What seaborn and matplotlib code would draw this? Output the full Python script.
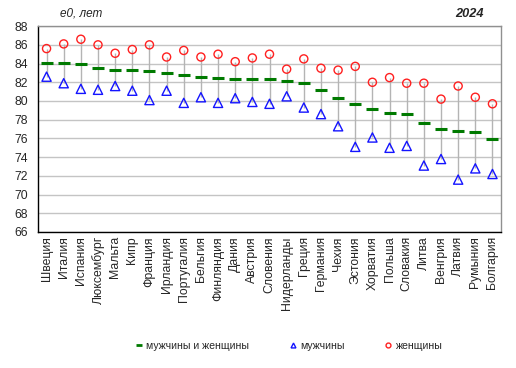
import numpy as np
import pandas as pd
import matplotlib
matplotlib.use("Agg")
import matplotlib.pyplot as plt
from matplotlib.lines import Line2D
import seaborn as sns

countries = ["Швеция", "Италия", "Испания", "Люксембург", "Мальта", "Кипр",
             "Франция", "Ирландия", "Португалия", "Бельгия", "Финляндия",
             "Дания", "Австрия", "Словения", "Нидерланды", "Греция",
             "Германия", "Чехия", "Эстония", "Хорватия", "Польша", "Словакия",
             "Литва", "Венгрия", "Латвия", "Румыния", "Болгария"]
both = [84.1, 84.1, 84.0, 83.5, 83.3, 83.3, 83.2, 83.0, 82.8, 82.6, 82.5,
        82.4, 82.4, 82.3, 82.1, 81.9, 81.2, 80.3, 79.7, 79.1, 78.7, 78.6,
        77.6, 77.0, 76.8, 76.7, 75.9]
men = [82.6, 81.9, 81.3, 81.2, 81.6, 81.1, 80.1, 81.1, 79.8, 80.4, 79.8,
       80.3, 79.9, 79.7, 80.5, 79.3, 78.6, 77.3, 75.1, 76.1, 75.0, 75.2,
       73.1, 73.8, 71.6, 72.8, 72.2]
women = [85.6, 86.1, 86.6, 86.0, 85.1, 85.5, 86.0, 84.7, 85.4, 84.7, 85.0,
         84.2, 84.6, 85.0, 83.4, 84.5, 83.5, 83.3, 83.7, 82.0, 82.5, 81.9,
         81.9, 80.2, 81.6, 80.4, 79.7]

df = pd.DataFrame({"country": countries, "both": both, "men": men, "women": women})
df["pos"] = np.arange(len(df))

sns.set_style("white")
plt.rcParams["font.family"] = ["Liberation Sans", "DejaVu Sans"]

fig = plt.figure(figsize=(5.16, 3.68), dpi=100)
ax = fig.add_axes([0.0736, 0.3696, 0.8974, 0.5594])

# range lines women -> men
ax.vlines(df["pos"], df["men"], df["women"], color="#b4b4b4", lw=1, zorder=1)

sns.scatterplot(data=df, x="pos", y="women", marker="o", s=34,
                facecolor="none", edgecolor="#ff2020", linewidth=1,
                ax=ax, zorder=3)
sns.scatterplot(data=df, x="pos", y="men", marker="^", s=44,
                facecolor="none", edgecolor="#1414ff", linewidth=1,
                ax=ax, zorder=3)
ax.plot(df["pos"], df["both"], linestyle="none", marker="_",
        markersize=9, markeredgewidth=2.2, color="#007a00", zorder=4)

ax.set_xlim(-0.5, len(df) - 0.5)
ax.set_ylim(66, 88)
ax.set_yticks(np.arange(66, 89, 2))
ax.set_xticks(df["pos"])
ax.set_xticklabels(df["country"], rotation=90, fontsize=8.8)
ax.tick_params(axis="y", labelsize=8.8, length=0, pad=7)
ax.tick_params(axis="x", length=0, pad=3)
ax.set_xlabel("")
ax.set_ylabel("")
ax.yaxis.grid(True, color="#c4c4c4", lw=1)
ax.set_axisbelow(True)
for side in ["left", "bottom"]:
    ax.spines[side].set_color("black")
    ax.spines[side].set_linewidth(1)
for side in ["top", "right"]:
    ax.spines[side].set_color("#909090")
    ax.spines[side].set_linewidth(1)

fig.text(0.116, 0.962, "e0, лет", fontsize=8.5, style="italic", va="center")
fig.text(0.937, 0.962, "2024", fontsize=9.2, style="italic", weight="bold",
         va="center", ha="right")

handles = [
    Line2D([], [], linestyle="none", marker="_", markersize=5,
           markeredgewidth=2, color="#007a00"),
    Line2D([], [], linestyle="none", marker="^", markersize=3.5,
           markerfacecolor="none", markeredgecolor="#1414ff"),
    Line2D([], [], linestyle="none", marker="o", markersize=3.5,
           markerfacecolor="none", markeredgecolor="#ff2020"),
]
labels = ["мужчины и женщины", "мужчины", "женщины"]
fig.legend(handles, labels, loc="center", bbox_to_anchor=(0.559, 0.06),
           ncol=3, frameon=False, fontsize=7.6, handlelength=0.8,
           handletextpad=0.3, columnspacing=3.7)

fig.savefig("out.png", dpi=100)
